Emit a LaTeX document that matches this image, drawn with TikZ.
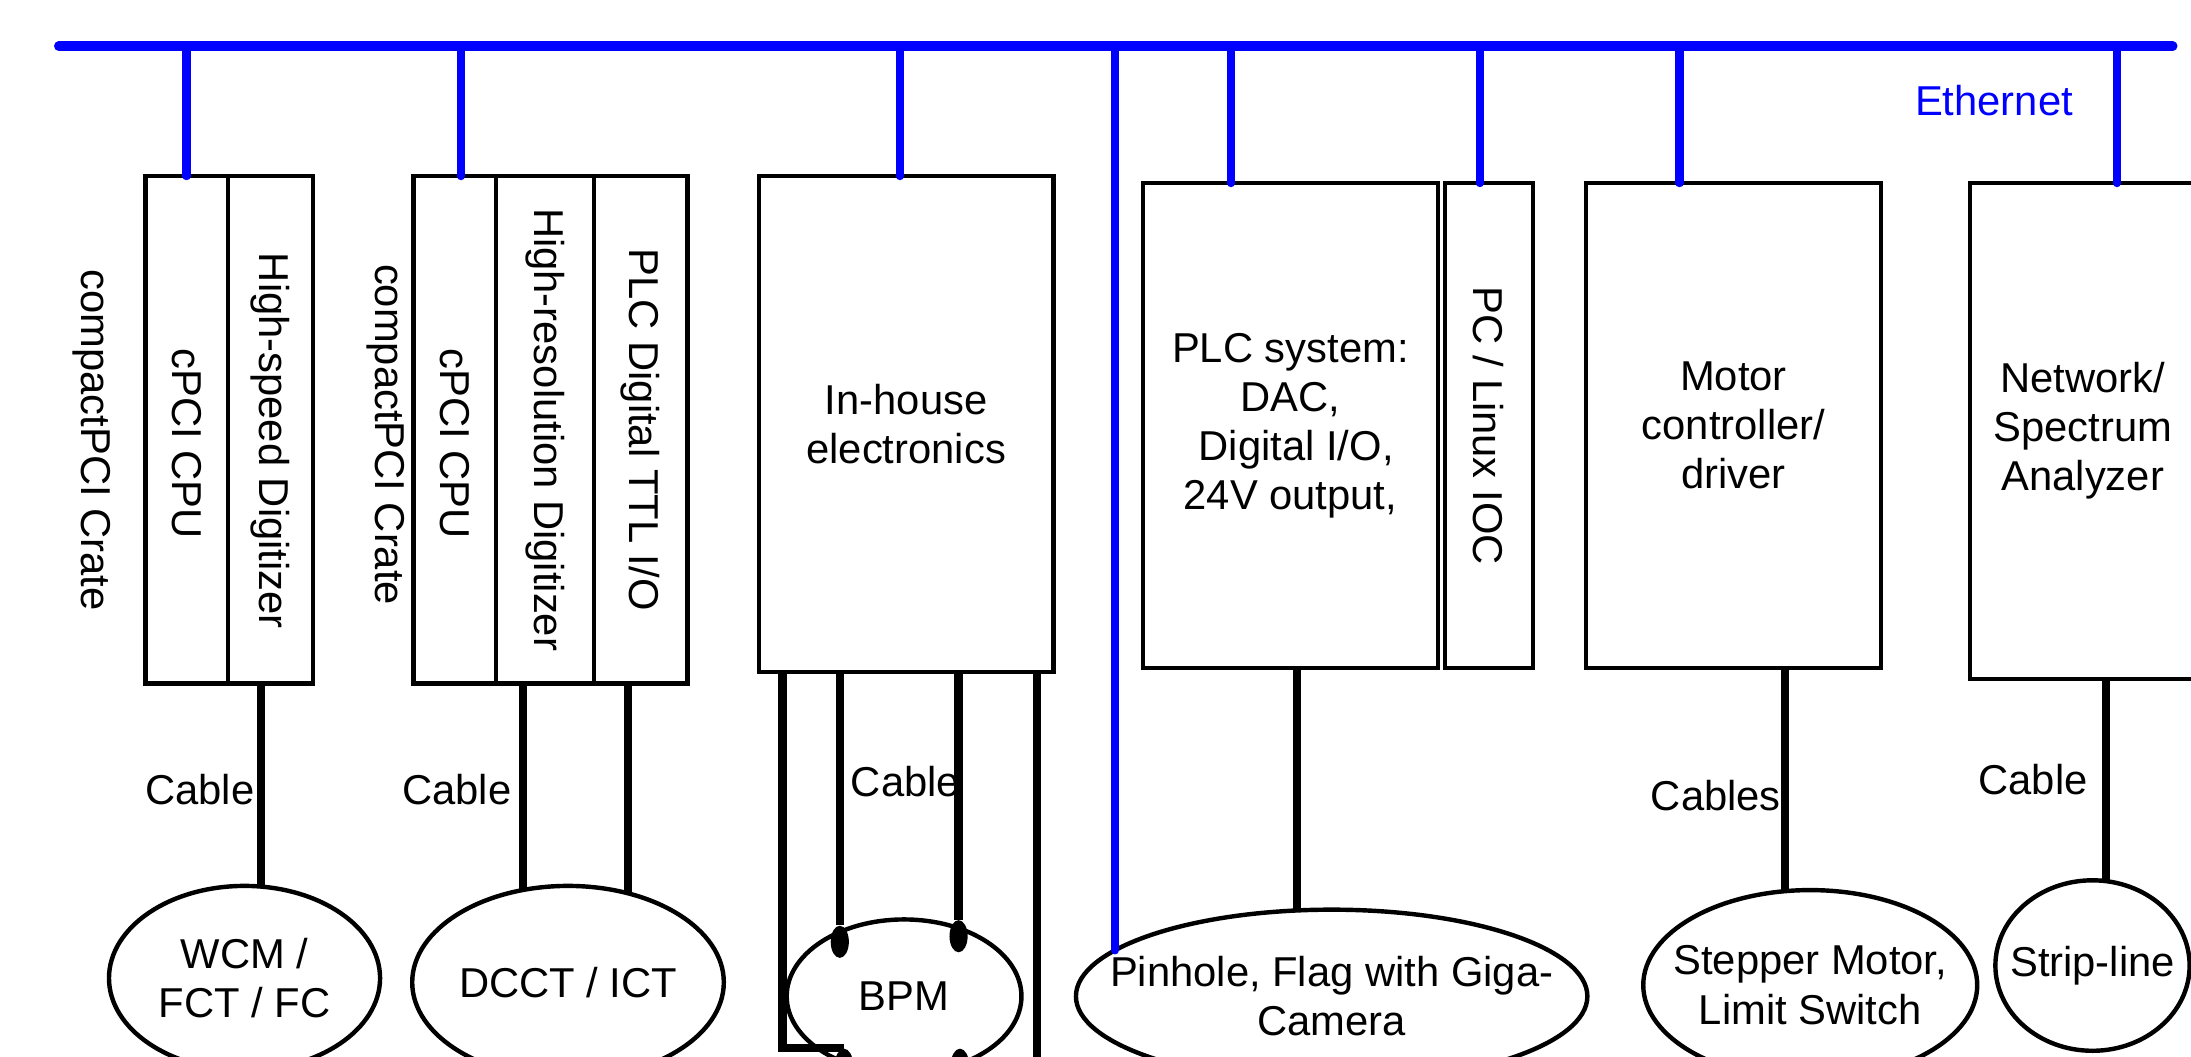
\documentclass[tikz,border=0pt]{standalone}
\usepackage{fontspec}
\setmainfont{Liberation Sans}
\usetikzlibrary{shapes.geometric}

\begin{document}
\begin{tikzpicture}[x=0.2mm, y=-0.2mm, font=\fontsize{17}{20}\selectfont]
    % Define styles
    \tikzstyle{cell}=[draw, line width=1.8pt, inner sep=0pt, outer sep=0pt, align=center]
    \tikzstyle{dev}=[ellipse, draw, line width=1.8pt, inner sep=0pt, outer sep=0pt]
    \tikzstyle{lbl}=[align=center, inner sep=0pt]
    \tikzstyle{cable}=[line width=3.4pt]
    \tikzstyle{eth}=[blue, line width=3.4pt, line cap=round]
    \tikzstyle{pin}=[ellipse, fill=black, inner sep=0pt, minimum width=0.26cm, minimum height=0.46cm]

    \useasboundingbox (0,0) rectangle (1568,756);
    \clip (0,0) rectangle (1568,756);

    % Ethernet backbone
    \coordinate (busL) at (42,33);
    \coordinate (busR) at (1555,33);
    \draw[eth, line width=3.8pt] (busL) -- (busR);
    \node[text=blue] (ethlabel) at (1427,72) {Ethernet};

    % Crate 1: cPCI CPU + high-speed digitizer
    \node[rotate=-90] (crate1) at (66,315) {compactPCI Crate};
    \node[cell, minimum width=1.18cm, minimum height=7.26cm] (cpu1) at (133.5,307.5) {\raisebox{-0.2cm}[\height][\depth]{\rotatebox{-90}{cPCI CPU}}};
    \node[cell, minimum width=1.22cm, minimum height=7.26cm] (dig1) at (193.5,307.5) {\raisebox{-0.16cm}[\height][\depth]{\rotatebox{-90}{High-speed Digitizer}}};

    % Crate 2: cPCI CPU + high-resolution digitizer + TTL I/O
    \node[rotate=-90] (crate2) at (276,311) {compactPCI Crate};
    \node[cell, minimum width=1.18cm, minimum height=7.26cm] (cpu2) at (325.5,307.5) {\raisebox{-0.2cm}[\height][\depth]{\rotatebox{-90}{cPCI CPU}}};
    \node[cell, minimum width=1.4cm, minimum height=7.26cm] (dig2) at (390,307.5) {\rotatebox{-90}{High-resolution Digitizer}};
    \node[cell, minimum width=1.34cm, minimum height=7.26cm] (ttl2) at (458.5,307.5) {\rotatebox{-90}{PLC Digital TTL I/O}};

    % Other front ends
    \node[cell, minimum width=4.22cm, minimum height=7.1cm] (inhouse) at (648.5,303.5) {In-house\\electronics};
    \node[cell, minimum width=4.22cm, minimum height=6.94cm] (plc) at (923.5,304.5) {PLC system:\\DAC,\\\hspace*{0.28em}Digital I/O,\\24V output,};
    \node[cell, minimum width=1.26cm, minimum height=6.94cm] (pc) at (1065.5,304.5) {\rotatebox{-90}{PC / Linux IOC}};
    \node[cell, minimum width=4.22cm, minimum height=6.94cm] (motor) at (1240.5,304.5) {Motor\\controller/\\driver};
    \node[cell, minimum width=3.22cm, minimum height=7.1cm] (net) at (1490.5,308.5) {Network/\\Spectrum\\Analyzer};

    % Ethernet drops
    \draw[eth] (cpu1.north) -- (cpu1.north |- busL);
    \draw[eth] ([xshift=0.09cm]cpu2.north) -- ([xshift=0.09cm]cpu2.north |- busL);
    \draw[eth] ([xshift=-0.09cm]inhouse.north) -- ([xshift=-0.09cm]inhouse.north |- busL);
    \draw[eth] ([xshift=-0.85cm]plc.north) -- ([xshift=-0.85cm]plc.north |- busL);
    \draw[eth] ([xshift=-0.13cm]pc.north) -- ([xshift=-0.13cm]pc.north |- busL);
    \draw[eth] ([xshift=-0.77cm]motor.north) -- ([xshift=-0.77cm]motor.north |- busL);
    \draw[eth] ([xshift=0.49cm]net.north) -- ([xshift=0.49cm]net.north |- busL);

    % Beam instruments
    \node[dev, minimum width=3.88cm, minimum height=2.64cm, label={[lbl]center:{WCM /\\FCT / FC}}] (wcm) at (175,700) {};
    \node[dev, minimum width=4.46cm, minimum height=2.76cm, label={[lbl]center:{DCCT / ICT}}] (dcct) at (406.5,703) {};
    \node[dev, minimum width=3.36cm, minimum height=2.2cm, label={[lbl]center:{BPM}}] (bpm) at (647,713) {};
    \node[dev, minimum width=7.32cm, minimum height=2.48cm, label={[lbl]center:{Pinhole, Flag with Giga-\\Camera}}] (pinhole) at (953,713) {};
    \node[dev, minimum width=4.78cm, minimum height=2.72cm, label={[lbl]center:{Stepper Motor,\\Limit Switch}}] (stepper) at (1295.5,705) {};
    \node[dev, minimum width=2.78cm, minimum height=2.44cm, label={[lbl]center:{Strip-line}}] (strip) at (1497.5,691) {};

    % BPM pick-up buttons
    \node[pin] (btn1) at (601,674) {};
    \node[pin] (btn2) at (686,670) {};
    \node[pin] (btn3) at (604,762) {};
    \node[pin] (btn4) at (687,762) {};

    % Cables
    \draw[cable] (wcm.80) -- (wcm.80 |- dig1.south);
    \draw[cable] (dcct.116) -- (dcct.116 |- dig2.south);
    \draw[cable] (dcct.56) -- (dcct.56 |- ttl2.south);
    \draw[cable] (btn1.north) -- (btn1.north |- inhouse.south);
    \draw[cable] (btn2.north) -- (btn2.north |- inhouse.south);
    \draw[cable] ([xshift=0.34cm]inhouse.south west) |- (btn3.north);
    \draw[cable] ([xshift=-0.24cm]inhouse.south east) |- (btn4.south);
    \draw[cable] (pinhole.112) -- (pinhole.112 |- plc.south);
    \draw[cable] (stepper.105) -- (stepper.105 |- motor.south);
    \draw[cable] (strip.81) -- (strip.81 |- net.south);
    \draw[eth] (pinhole.168) -- (pinhole.168 |- busL);

    % Cable labels
    \node (cab1) at (143,565) {Cable};
    \node (cab2) at (327,565) {Cable};
    \node (cab3) at (648,559) {Cable};
    \node (cab4) at (1228,569) {Cables};
    \node (cab5) at (1455,558) {Cable};

\end{tikzpicture}
\end{document}
